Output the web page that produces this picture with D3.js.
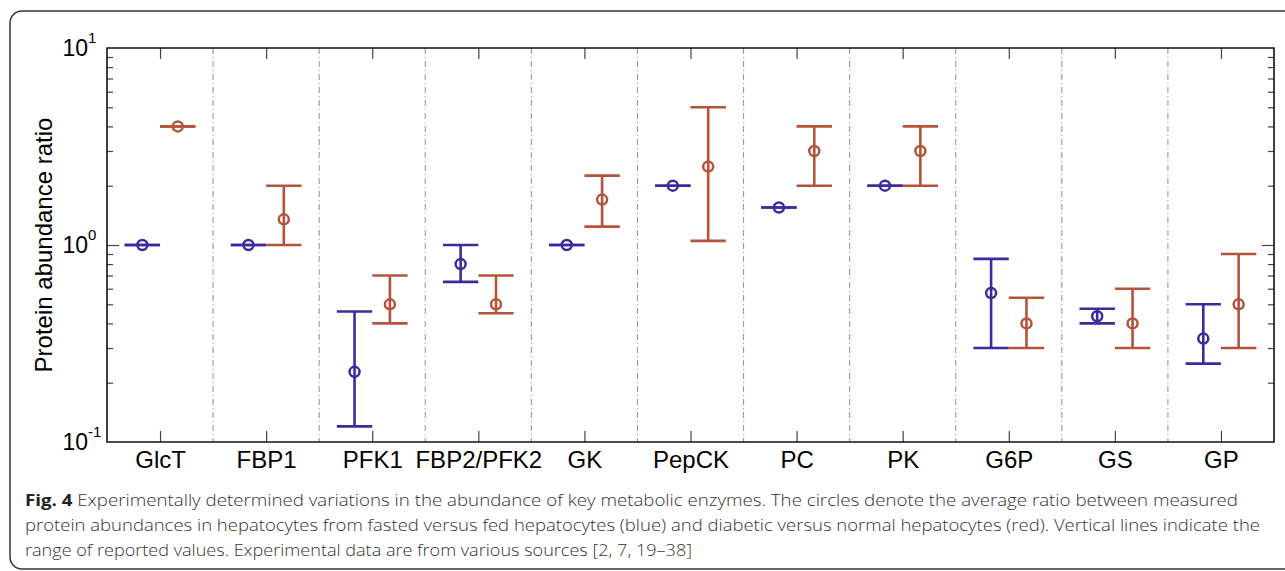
<!DOCTYPE html>
<html>
<head>
<meta charset="utf-8">
<script src="https://cdn.jsdelivr.net/npm/d3@7"></script>
<style>
  body { margin: 0; background: #fff; }
  svg { display: block; }
</style>
</head>
<body>
<script>
// enzymes on the x axis
var categories = ["GlcT", "FBP1", "PFK1", "FBP2/PFK2", "GK", "PepCK", "PC", "PK", "G6P", "GS", "GP"];

// fasted vs fed (blue)
var fastedMean = [1, 1, 0.227, 0.80, 1, 2, 1.55, 2, 0.57, 0.435, 0.335];
var fastedLow  = [1, 1, 0.12, 0.65, 1, 2, 1.55, 2, 0.30, 0.40, 0.25];
var fastedHigh = [1, 1, 0.46, 1.0, 1, 2, 1.55, 2, 0.85, 0.475, 0.50];

// diabetic vs normal (red)
var diabeticMean = [4, 1.35, 0.50, 0.50, 1.70, 2.5, 3, 3, 0.40, 0.40, 0.50];
var diabeticLow  = [4, 1, 0.40, 0.45, 1.24, 1.05, 2, 2, 0.30, 0.30, 0.30];
var diabeticHigh = [4, 2, 0.70, 0.70, 2.25, 5, 4, 4, 0.54, 0.60, 0.90];

var majorTicks = [0.1, 1, 10];
var tickExp = ["-1", "0", "1"];

var captionLines = [
  "Experimentally determined variations in the abundance of key metabolic enzymes. The circles denote the average ratio between measured",
  "protein abundances in hepatocytes from fasted versus fed hepatocytes (blue) and diabetic versus normal hepatocytes (red). Vertical lines indicate the",
  "range of reported values. Experimental data are from various sources [2, 7, 19\u201338]"
];

var w = 1285, h = 571;
var blue = "#3a2b9f", red = "#b5543a";

var svg = d3.select("body").append("svg")
  .attr("width", w)
  .attr("height", h);

// figure frame
svg.append("rect")
  .attr("x", 10).attr("y", 11)
  .attr("width", 1300).attr("height", 558)
  .attr("rx", 12).attr("ry", 12)
  .attr("fill", "none")
  .attr("stroke", "#333")
  .attr("stroke-width", 1.5);

var pL = 107, pR = 1274, pT = 48, pB = 442;

var x = d3.scaleLinear().domain([0.5, categories.length + 0.5]).range([pL, pR]);
var y = d3.scaleLog().domain([0.1, 10]).range([pB, pT]);

var idx = d3.range(1, categories.length + 1);
var minor = [];
[0.1, 1].forEach(function(p){
  for (var k = 2; k <= 9; k++) minor.push(p * k);
});

// dash-dot separators
svg.append("g").selectAll("line")
  .data(d3.range(1.5, categories.length, 1))
  .enter().append("line")
  .attr("x1", function(d){ return x(d); })
  .attr("x2", function(d){ return x(d); })
  .attr("y1", pT).attr("y2", pB)
  .attr("stroke", "#999")
  .attr("stroke-width", 1.1)
  .attr("stroke-dasharray", "6,3,1,3");

// axes
var font = "'Liberation Sans', Arial, sans-serif";

var xb = svg.append("g")
  .attr("transform", "translate(0," + pB + ")")
  .call(d3.axisBottom(x).tickValues(idx).tickSizeInner(-11).tickSizeOuter(0).tickPadding(9)
    .tickFormat(function(d){ return categories[d - 1]; }));
xb.selectAll("text").attr("font-family", font).attr("font-size", 24).attr("fill", "#000");

svg.append("g")
  .attr("transform", "translate(0," + pT + ")")
  .call(d3.axisTop(x).tickValues(idx).tickSizeInner(-11).tickSizeOuter(0).tickFormat(""));

function yMinor(g, axis) {
  g.call(axis.tickValues(minor).tickSizeInner(-6).tickSizeOuter(0).tickFormat(""));
}
function yMajor(g, axis) {
  g.call(axis.tickValues([1]).tickSizeInner(-12).tickSizeOuter(0).tickFormat(""));
}
svg.append("g").attr("transform", "translate(" + pL + ",0)").call(yMinor, d3.axisLeft(y));
svg.append("g").attr("transform", "translate(" + pL + ",0)").call(yMajor, d3.axisLeft(y));
svg.append("g").attr("transform", "translate(" + pR + ",0)").call(yMinor, d3.axisRight(y));
svg.append("g").attr("transform", "translate(" + pR + ",0)").call(yMajor, d3.axisRight(y));

svg.selectAll(".tick line").attr("stroke", "#444").attr("stroke-width", 1.2);
svg.selectAll(".domain").remove();

// plot box
svg.append("path")
  .attr("d", "M" + pL + "," + pT + "H" + pR + "V" + pB + "H" + pL + "Z")
  .attr("fill", "none")
  .attr("stroke", "#111")
  .attr("stroke-width", 1.6);

// y tick labels 10^n
svg.append("g").selectAll("text")
  .data(majorTicks)
  .enter().append("text")
  .attr("x", 88)
  .attr("y", function(d){ return y(d) + 8; })
  .attr("text-anchor", "end")
  .attr("font-family", font)
  .attr("font-size", 23)
  .text("10");
svg.append("g").selectAll("text")
  .data(majorTicks)
  .enter().append("text")
  .attr("x", 88)
  .attr("y", function(d){ return y(d) - 5; })
  .attr("font-family", font)
  .attr("font-size", 15)
  .text(function(d, i){ return tickExp[i]; });

svg.append("text")
  .attr("transform", "translate(52," + ((pT + pB) / 2) + ") rotate(-90)")
  .attr("text-anchor", "middle")
  .attr("font-family", font)
  .attr("font-size", 24)
  .text("Protein abundance ratio");

// error bars
var cap = (x(2) - x(1)) / 3;
function drawSeries(mean, low, high, color, side) {
  var g = svg.append("g");
  var sets = categories.map(function(c, i){
    var cx = x(i + 1) + side * cap / 2;
    return { cx: cx, m: mean[i], lo: low[i], hi: high[i] };
  });
  var s = g.selectAll("g").data(sets).enter().append("g");
  s.append("line")
    .attr("x1", function(d){ return d.cx; }).attr("x2", function(d){ return d.cx; })
    .attr("y1", function(d){ return y(d.lo); }).attr("y2", function(d){ return y(d.hi); });
  s.append("line")
    .attr("x1", function(d){ return d.cx - cap / 2; }).attr("x2", function(d){ return d.cx + cap / 2; })
    .attr("y1", function(d){ return y(d.lo); }).attr("y2", function(d){ return y(d.lo); });
  s.append("line")
    .attr("x1", function(d){ return d.cx - cap / 2; }).attr("x2", function(d){ return d.cx + cap / 2; })
    .attr("y1", function(d){ return y(d.hi); }).attr("y2", function(d){ return y(d.hi); });
  s.selectAll("line").attr("stroke", color).attr("stroke-width", 2.6);
  s.append("circle")
    .attr("cx", function(d){ return d.cx; })
    .attr("cy", function(d){ return y(d.m); })
    .attr("r", 5)
    .attr("fill", "none")
    .attr("stroke", color)
    .attr("stroke-width", 2.5);
}
drawSeries(fastedMean, fastedLow, fastedHigh, blue, -1);
drawSeries(diabeticMean, diabeticLow, diabeticHigh, red, 1);

// caption
var capFont = "'Open Sans', 'Noto Sans', sans-serif";
var capWidths = [1213, 1235, 667];
var cap0 = svg.append("text")
  .attr("x", 25).attr("y", 506)
  .attr("font-family", capFont).attr("font-size", 16).attr("fill", "#333");
cap0.append("tspan").attr("font-weight", 700).attr("fill", "#222").text("Fig. 4");
cap0.append("tspan").attr("font-weight", 300).text(" " + captionLines[0]);
cap0.attr("textLength", capWidths[0]).attr("lengthAdjust", "spacingAndGlyphs");

captionLines.slice(1).forEach(function(t, i){
  svg.append("text")
    .attr("x", 25).attr("y", 531 + i * 25)
    .attr("font-family", capFont).attr("font-size", 16)
    .attr("font-weight", 300).attr("fill", "#333")
    .attr("textLength", capWidths[i + 1])
    .attr("lengthAdjust", "spacingAndGlyphs")
    .text(t);
});
</script>
</body>
</html>
